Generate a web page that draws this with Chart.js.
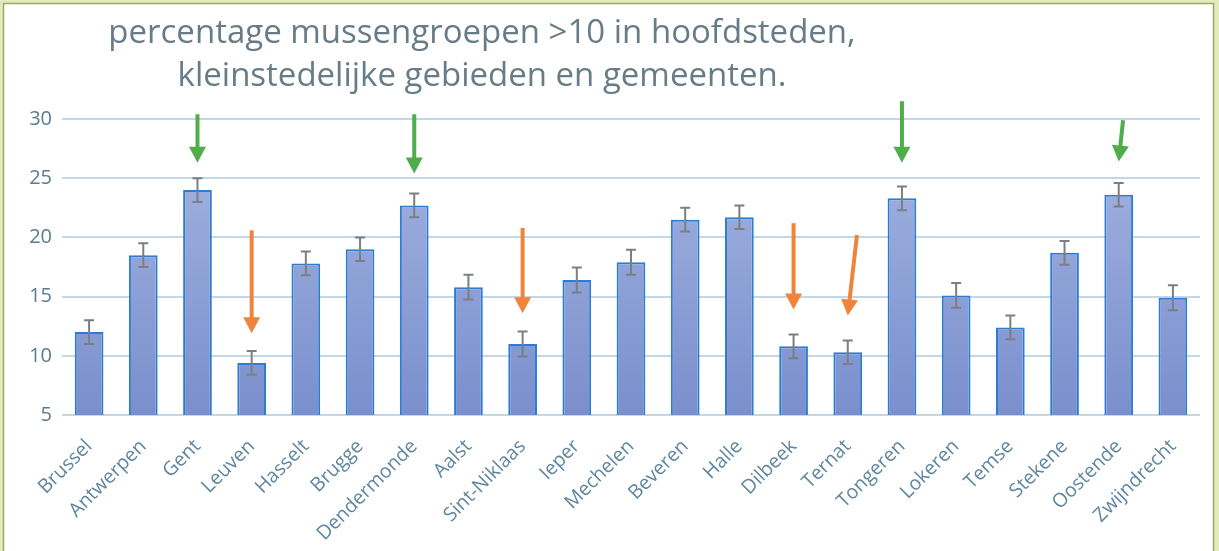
<!DOCTYPE html>
<html><head><meta charset="utf-8">
<script src="https://cdn.jsdelivr.net/npm/chart.js@4.4.1/dist/chart.umd.min.js"></script>
<style>html,body{margin:0;padding:0;background:#fff;overflow:hidden}#wrap{width:1219px;height:551px;position:relative}</style>
</head><body><div id="wrap"><canvas id="c"></canvas></div>
<script>
const categories = ['Brussel','Antwerpen','Gent','Leuven','Hasselt','Brugge','Dendermonde','Aalst','Sint-Niklaas','Ieper','Mechelen','Beveren','Halle','Dilbeek','Ternat','Tongeren','Lokeren','Temse','Stekene','Oostende','Zwijndrecht'];
const values = [12.0, 18.5, 24.0, 9.4, 17.8, 19.0, 22.7, 15.8, 11.0, 16.4, 17.9, 21.5, 21.7, 10.8, 10.3, 23.3, 15.1, 12.4, 18.7, 23.6, 14.9];
const errors = [1.0, 1.0, 1.0, 1.0, 1.0, 1.0, 1.0, 1.05, 1.05, 1.05, 1.05, 1.0, 1.0, 1.0, 1.0, 1.0, 1.05, 1.0, 1.0, 1.0, 1.05];
const yTicks = [5, 10, 15, 20, 25, 30];
const titleLines = ['percentage mussengroepen >10 in hoofdsteden,', 'kleinstedelijke gebieden en gemeenten.'];
const arrowCategories = ['Gent','Leuven','Dendermonde','Sint-Niklaas','Dilbeek','Ternat','Tongeren','Oostende'];
const arrowFrom = [30.4, 20.6, 30.4, 20.8, 21.2, 20.2, 31.5, 29.9];
const arrowTo = [26.3, 11.9, 25.4, 13.6, 13.9, 13.4, 26.3, 26.4];
const arrowType = ['green','orange','green','orange','orange','orange','green','green'];
const arrowTilt = [0, 0, 0, 0, 0, 0.17, 0, 0.08];

const arrowColors = {green:'#4fae4a', orange:'#f0843a'};

const frame = {
  id:'frame',
  beforeDraw(chart){
    const ctx = chart.ctx, w = chart.width, h = chart.height;
    ctx.save();
    ctx.fillStyle = '#e3ebbd';
    ctx.fillRect(0,0,w,h);
    ctx.fillStyle = '#ffffff';
    ctx.fillRect(4,4,w-10,h);
    ctx.strokeStyle = '#9aa95c';
    ctx.lineWidth = 1.5;
    ctx.beginPath();
    ctx.moveTo(3.5,h+2); ctx.lineTo(3.5,3.5); ctx.lineTo(w-5.5,3.5); ctx.lineTo(w-5.5,h+2);
    ctx.stroke();
    ctx.restore();
  },
  afterDraw(chart){
    const ctx = chart.ctx;
    ctx.save();
    ctx.fillStyle = '#677c87';
    ctx.font = '33px "Open Sans"';
    ctx.textAlign = 'center';
    ctx.textBaseline = 'alphabetic';
    ctx.fillText(titleLines[0], 482, 43);
    ctx.fillText(titleLines[1], 482, 86);
    ctx.restore();
  }
};

const extras = {
  id:'extras',
  afterDatasetsDraw(chart){
    const ctx = chart.ctx, xs = chart.scales.x, ys = chart.scales.y;
    ctx.save();
    ctx.strokeStyle = '#7b7f82';
    ctx.lineWidth = 2;
    values.forEach((v,i)=>{
      const x = xs.getPixelForValue(i);
      const yt = ys.getPixelForValue(v+errors[i]);
      const yb = ys.getPixelForValue(v-errors[i]);
      ctx.beginPath();
      ctx.moveTo(x,yt); ctx.lineTo(x,yb);
      ctx.moveTo(x-5,yt); ctx.lineTo(x+5,yt);
      ctx.moveTo(x-5,yb); ctx.lineTo(x+5,yb);
      ctx.stroke();
    });
    const step = xs.getPixelForValue(1) - xs.getPixelForValue(0);
    arrowCategories.forEach((c,k)=>{
      const i = categories.indexOf(c);
      const xb = xs.getPixelForValue(i);
      const x0 = xb + arrowTilt[k]*step, y0 = ys.getPixelForValue(arrowFrom[k]);
      const x1 = xb, y1 = ys.getPixelForValue(arrowTo[k]);
      const col = arrowColors[arrowType[k]];
      const ang = Math.atan2(y1-y0, x1-x0);
      const hl = 16, hw = 8.5;
      const bx = x1 - hl*Math.cos(ang), by = y1 - hl*Math.sin(ang);
      ctx.strokeStyle = col; ctx.fillStyle = col; ctx.lineWidth = 4; ctx.lineCap='butt';
      ctx.beginPath(); ctx.moveTo(x0,y0); ctx.lineTo(bx+2*Math.cos(ang),by+2*Math.sin(ang)); ctx.stroke();
      ctx.beginPath();
      ctx.moveTo(x1,y1);
      ctx.lineTo(bx + hw*Math.sin(ang), by - hw*Math.cos(ang));
      ctx.lineTo(bx - hw*Math.sin(ang), by + hw*Math.cos(ang));
      ctx.closePath(); ctx.fill();
    });
    ctx.restore();
  }
};

new Chart(document.getElementById('c'), {
  type:'bar',
  data:{
    labels: categories,
    datasets:[{
      data: values,
      backgroundColor(ctx){
        const a = ctx.chart.chartArea;
        if(!a) return '#8ea0d6';
        const g = ctx.chart.ctx.createLinearGradient(0,a.top,0,a.bottom);
        g.addColorStop(0,'#a6b6e2');
        g.addColorStop(1,'#7a8fcd');
        return g;
      },
      borderColor:'#2b7dd3',
      borderWidth:2,
      borderSkipped:'start',
      categoryPercentage:1.0,
      barPercentage:0.53
    }]
  },
  options:{
    responsive:true,
    maintainAspectRatio:false,
    animation:false,
    devicePixelRatio:1,
    layout:{padding:{top:119,right:19,bottom:0,left:0}},
    plugins:{legend:{display:false},title:{display:false},tooltip:{enabled:false}},
    scales:{
      x:{
        grid:{display:false},
        border:{display:false},
        ticks:{color:'#5f86a0',font:{family:'"Open Sans"',size:19.5},maxRotation:45,minRotation:45,autoSkip:false,padding:12},
        afterFit(s){s.height = 136;}
      },
      y:{
        min:5,max:30,
        afterBuildTicks(s){ s.ticks = yTicks.map(v=>({value:v})); },
        grid:{color:'#c3d8e6',lineWidth:2,drawTicks:false},
        border:{display:false},
        ticks:{color:'#5a7c8e',font:{family:'"Open Sans"',size:20},padding:10},
        afterFit(s){s.width = 62;}
      }
    }
  },
  plugins:[frame, extras]
});
</script>
</body></html>
